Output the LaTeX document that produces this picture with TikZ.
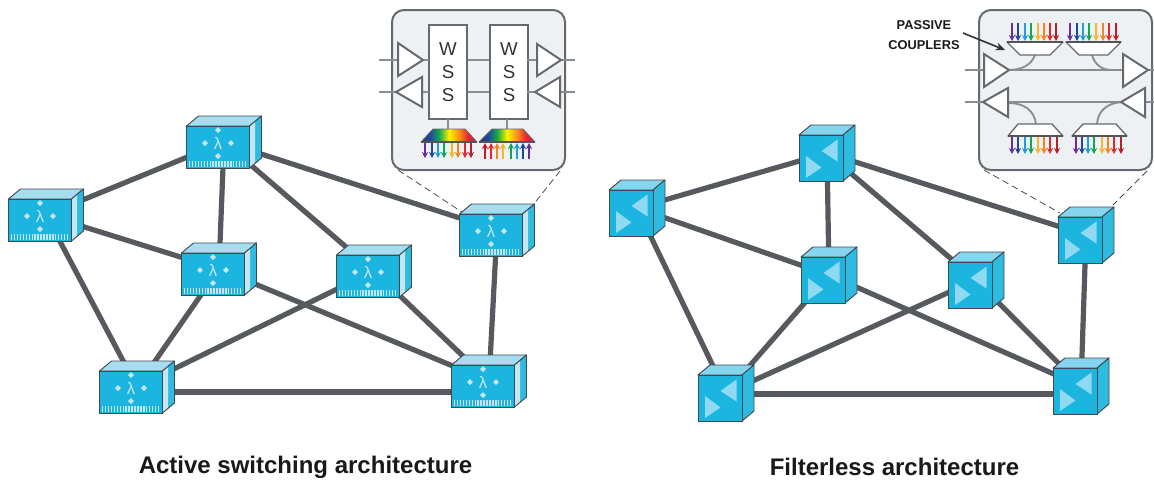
\documentclass[tikz,border=0pt]{standalone}
\usepackage{fontspec}
\setmainfont{Liberation Sans}
\usetikzlibrary{arrows.meta,backgrounds}
\definecolor{linkc}{HTML}{565A5E}
\definecolor{edgec}{HTML}{3E4A52}
\definecolor{frontc}{HTML}{1BB5E0}
\definecolor{topc}{HTML}{A6DDF1}
\definecolor{stripc}{HTML}{C4E6F3}
\definecolor{cubetop}{HTML}{86D4EE}
\definecolor{cubeside}{HTML}{2FBBE0}
\definecolor{trifill}{HTML}{8FD9F3}
\definecolor{insetfill}{HTML}{EEF1F4}
\definecolor{insetline}{HTML}{666A6E}
\definecolor{thin}{HTML}{8A8E90}
\definecolor{rpur}{HTML}{6A2C9A}
\definecolor{rblu}{HTML}{23479B}
\definecolor{rcya}{HTML}{1E9FD8}
\definecolor{rgrn}{HTML}{12A650}
\definecolor{ryel}{HTML}{F9B62A}
\definecolor{rora}{HTML}{F28423}
\definecolor{rred}{HTML}{E6252E}
\definecolor{rdrd}{HTML}{B81F2D}
\pgfdeclarehorizontalshading{rainbowfill}{100bp}{
 color(0bp)=(rblu!80!black); color(25bp)=(rblu!80!black); color(33bp)=(rblu);
 color(41bp)=(rgrn); color(50bp)=(yellow!90!orange); color(60bp)=(rora);
 color(67bp)=(rred); color(75bp)=(rdrd!70!magenta); color(100bp)=(rdrd!70!magenta)}
\tikzset{
 x=0.75pt,y=-0.75pt,
 linkline/.style={draw=linkc,line width=3.9pt},
 anchorbox/.style={inner sep=0pt,minimum width=47pt,minimum height=31pt},
 anchorcube/.style={inner sep=0pt,minimum width=33pt,minimum height=34pt},
 faceline/.style={draw=edgec,line width=0.7pt,line join=round},
 inset/.style={draw=insetline,fill=insetfill,line width=1.5pt,rounded corners=9pt},
 thinline/.style={draw=thin,line width=1.4pt},
 amp/.style={draw=insetline,fill=white,line width=1.5pt,line join=miter},
 wssbox/.style={draw=insetline,fill=white,line width=1.4pt,inner sep=0pt,minimum width=28pt,minimum height=70pt,
   align=center,font=\fontsize{14}{17.3}\selectfont,text=black!80},
 coupler/.style={draw=insetline,fill=white,line width=1pt,line join=round},
 barline/.style={draw=insetline!80!black,line width=1.7pt},
 wdm/.style={line width=1.25pt,-{Stealth[length=4.5pt,width=4.5pt]}},
 dashlink/.style={draw=black!70,line width=0.6pt,dash pattern=on 5pt off 3pt},
 captiontext/.style={font=\fontsize{18}{21}\selectfont\bfseries,text=black!90},
 switchbox/.pic={
  \fill[topc] (-31.5,-21)--(-19.5,-31)--(43.5,-31)--(31.5,-21)--cycle;
  \path[faceline] (-31.5,-21)--(-19.5,-31)--(43.5,-31)--(31.5,-21)--cycle;
  \fill[cubeside] (31.5,-21)--(43.5,-31)--(43.5,11)--(31.5,21)--cycle;
  \fill[stripc] (31.5,-21)--(37,-25.5)--(37,16.5)--(31.5,21)--cycle;
  \path[faceline] (31.5,-21)--(43.5,-31)--(43.5,11)--(31.5,21)--cycle;
  \fill[frontc,draw=edgec,line width=0.7pt] (-31.5,-21) rectangle (31.5,21);
  \draw[stripc,line width=3.8pt,dash pattern=on 1.1pt off 1.1pt] (-29,17) -- (29,17);
  \node[text=stripc,font=\fontsize{12.5}{13}\selectfont,inner sep=0pt] at (0,-4) {λ};
  \fill[stripc] (0,-20)--(3,-17)--(0,-14)--(-3,-17)--cycle;
  \fill[stripc] (0,6)--(3,9)--(0,12)--(-3,9)--cycle;
  \fill[stripc] (-16,-4)--(-13,-7)--(-10,-4)--(-13,-1)--cycle;
  \fill[stripc] (16,-4)--(13,-7)--(10,-4)--(13,-1)--cycle;
 },
 switchcube/.pic={
  \fill[cubetop] (-22,-23)--(-10,-33)--(34,-33)--(22,-23)--cycle;
  \path[faceline] (-22,-23)--(-10,-33)--(34,-33)--(22,-23)--cycle;
  \fill[cubeside] (22,-23)--(34,-33)--(34,13)--(22,23)--cycle;
  \path[faceline] (22,-23)--(34,-33)--(34,13)--(22,23)--cycle;
  \fill[frontc,draw=edgec,line width=0.7pt] (-22,-23) rectangle (22,23);
  \fill[trifill] (16.5,-18.5)--(16.5,3.5)--(0.5,-7)--cycle;
  \fill[trifill] (-15,-2)--(-15,20)--(0.5,9.5)--cycle;
 }
}
\begin{document}
\begin{tikzpicture}
\useasboundingbox (0,0) rectangle (1154,480);
\fill[white] (0,0) rectangle (1154,480);
% link anchors: centre of each drawn box, front face plus depth
\foreach \n/\x/\y in {la/224/142,lb/46/215,lc/219/269,ld/374/271,le/497/230,lf/137/387,lg/489/381}
  {\node[anchorbox] (\n) at (\x,\y) {};}
\foreach \n/\x/\y in {ra/827/153,rb/637/208,rc/829/275,rd/976/280,re/1086/235,rf/726/393,rg/1081/386}
  {\node[anchorcube] (\n) at (\x,\y) {};}
\foreach \a/\b in {la/lb,la/lc,la/ld,la/le,lb/lc,lb/lf,lc/lf,lc/lg,ld/lf,ld/lg,le/lg,
                   ra/rb,ra/rc,ra/rd,ra/re,rb/rc,rb/rf,rc/rf,rc/rg,rd/rf,rd/rg,re/rg}
  {\path[linkline] (\a.center) -- (\b.center);}
\coordinate (lfg) at (300,392);
\coordinate (rfg) at (900,394);
\path[linkline] (lf.center |- lfg) -- (lg.center |- lfg);
\path[linkline] (rf.center |- rfg) -- (rg.center |- rfg);
\foreach \n in {la,lb,lc,ld,le,lf,lg} {\pic at ([shift={(-6,5)}]\n.center) {switchbox};}
\foreach \n in {ra,rb,rc,rd,re,rf,rg} {\pic at ([shift={(-6,5)}]\n.center) {switchcube};}
% left inset
\coordinate (lcornerA) at (462,212);
\coordinate (lcornerB) at (533,205);
\draw[dashlink] (398,170) -- (lcornerA);
\draw[dashlink] (560,171) -- (lcornerB);
\draw[inset] (392,10) rectangle (565,170);
\node[wssbox] (wa) at (448,72) {W\\S\\S};
\node[wssbox] (wb) at (509,72) {W\\S\\S};
\path[thinline] (wa.east|-0,60) -- (wb.west|-0,60);
\path[thinline] (wa.east|-0,92) -- (wb.west|-0,92);
\path[thinline] (379,60)--(429,60) (379,92)--(429,92) (527,60)--(575,60) (527,92)--(575,92);
\path[amp] (398,43)--(398,76)--(423,60)--cycle;
\path[amp] (422,77)--(422,107)--(396,92)--cycle;
\path[amp] (537,44)--(537,76)--(561,60)--cycle;
\path[amp] (560,77)--(560,107)--(535,92)--cycle;
\path[thinline] (448,119)--(448,129) (507,119)--(507,129);
\shade[shading=rainbowfill] (421,142)--(433,129)--(465,129)--(477,142)--cycle;
\shade[shading=rainbowfill] (479,142)--(492,129)--(523,129)--(535,142)--cycle;
\draw[draw=black!60,line width=0.6pt] (421,142)--(433,129)--(465,129)--(477,142) (479,142)--(492,129)--(523,129)--(535,142);
\path[barline] (421,142)--(477,142) (479,142)--(535,142);
\foreach \x/\c in {425/rpur,432/rblu,438/rcya,444/rgrn,452/ryel,458/rora,465/rred,471/rdrd}
  {\draw[wdm,\c] (\x,143)--(\x,158);}
\foreach \x/\c in {485/rdrd,491/rred,497/rora,503/ryel,511/rgrn,517/rcya,523/rblu,529/rpur}
  {\draw[wdm,\c] (\x,159)--(\x,143);}
% right inset
\coordinate (rcornerA) at (1060,213);
\coordinate (rcornerB) at (1113,205);
\draw[dashlink] (984,170) -- (rcornerA);
\draw[dashlink] (1147,171) -- (rcornerB);
\draw[inset] (979,10) rectangle (1152,170);
\path[thinline] (965,70)--(1154,70) (965,102)--(1154,102);
\path[thinline] (1035,55) .. controls (1031,66) and (1020,70) .. (1009,70);
\path[thinline] (1092,55) .. controls (1095,65) and (1102,70) .. (1112,70);
\path[thinline] (1036,124) .. controls (1034,110) and (1024,103) .. (1008,103);
\path[thinline] (1097,124) .. controls (1098,110) and (1108,103) .. (1122,102);
\path[amp] (984,54)--(984,87)--(1009,70)--cycle;
\path[amp] (1123,54)--(1123,87)--(1148,70)--cycle;
\path[amp] (1008,88)--(1008,117)--(983,102)--cycle;
\path[amp] (1145,88)--(1145,117)--(1121,102)--cycle;
\path[coupler] (1007,42)--(1063,42)--(1050,55)--(1020,55)--cycle;
\path[coupler] (1066,42)--(1121,42)--(1108,55)--(1079,55)--cycle;
\path[coupler] (1008,136)--(1063,136)--(1052,124)--(1018,124)--cycle;
\path[coupler] (1072,136)--(1127,136)--(1116,124)--(1083,124)--cycle;
\path[barline] (1007,42)--(1063,42) (1066,42)--(1121,42) (1008,136)--(1063,136) (1072,136)--(1127,136);
\foreach \x/\c in {1012/rpur,1018/rblu,1025/rcya,1031/rgrn,1038/ryel,1044/rora,1050/rred,1056/rdrd,
                   1070/rpur,1077/rblu,1083/rcya,1089/rgrn,1096/ryel,1103/rora,1109/rred,1116/rdrd}
  {\draw[wdm,\c] (\x,23)--(\x,41);}
\foreach \x/\c in {1012/rpur,1018/rblu,1025/rcya,1031/rgrn,1038/ryel,1044/rora,1050/rred,1057/rdrd,
                   1076/rpur,1082/rblu,1088/rcya,1094/rgrn,1102/ryel,1108/rora,1114/rred,1121/rdrd}
  {\draw[wdm,\c] (\x,137)--(\x,154);}
% labels
\node[font=\fontsize{9.6}{15}\selectfont\bfseries,align=center,inner sep=0pt,text=black!90] (pc) at (924,35) {PASSIVE\\COUPLERS};
\coordinate (pctip) at (1005,50);
\draw[draw=black!80,line width=1.2pt,-{Stealth[length=7pt,width=6pt]}] (963,33) -- (pctip);
\node[captiontext] (cap1) at (305.5,467) {Active switching architecture};
\node[captiontext] (cap2) at (894.5,467) {Filterless architecture};
\end{tikzpicture}
\end{document}
